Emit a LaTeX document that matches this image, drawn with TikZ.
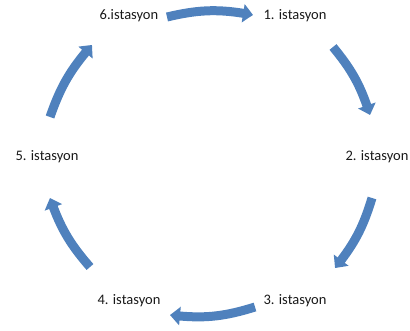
\documentclass[tikz,border=0pt]{standalone}
\usepackage{fontspec}
\setmainfont{Carlito}
\usetikzlibrary{arrows.meta,bending}
\definecolor{arrowblue}{RGB}{79,129,189}
\begin{document}
\begin{tikzpicture}[x=1pt,y=1pt,
  lbl/.style={anchor=base,inner sep=0pt,font=\fontsize{14.5}{17}\selectfont,text=black!90},
  cyc/.style={draw=arrowblue,line width=9pt,-{Triangle[width=18pt,length=10pt,bend]}}]
\useasboundingbox (0,0) rectangle (410,-331);
% labels
\node[lbl] (n6) at (129,-20) {6.istasyon};
\node[lbl] (n1) at (295,-20) {1. istasyon};
\node[lbl] (n2) at (377,-161) {2. istasyon};
\node[lbl] (n3) at (295,-305) {3. istasyon};
\node[lbl] (n4) at (129,-305) {4. istasyon};
\node[lbl] (n5) at (47,-161) {5. istasyon};
% arrow ends
\coordinate (a61s) at (167,-17);  \coordinate (a61e) at (253,-15);
\coordinate (a12s) at (333,-47);  \coordinate (a12e) at (370,-115);
\coordinate (a23s) at (372,-198); \coordinate (a23e) at (335,-268);
\coordinate (a34s) at (255,-307); \coordinate (a34e) at (170,-315);
\coordinate (a45s) at (90,-267);  \coordinate (a45e) at (50,-198);
\coordinate (a56s) at (50,-117);  \coordinate (a56e) at (92,-45);
% arrows
\draw[cyc] (a61s) to[bend left=12] (a61e);
\draw[cyc] (a12s) to[bend left=11] (a12e);
\draw[cyc] (a23s) to[bend left=11] (a23e);
\draw[cyc] (a34s) to[bend left=12] (a34e);
\draw[cyc] (a45s) to[bend left=11] (a45e);
\draw[cyc] (a56s) to[bend left=11] (a56e);
\end{tikzpicture}
\end{document}
